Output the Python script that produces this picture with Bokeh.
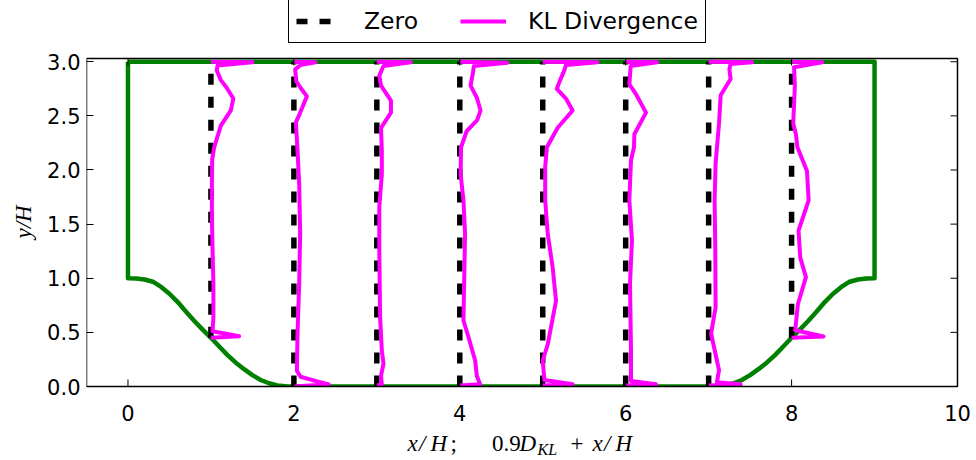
import math
from bokeh.plotting import figure
from bokeh.models import (FixedTicker, PrintfTickFormatter, Legend, LegendItem, Label,
                          Range1d)
from bokeh.core.properties import value
from bokeh.embed import file_html
from bokeh.resources import INLINE

# ---------------- data ----------------
stations = [1, 2, 3, 4, 5, 6, 7, 8]
station_wall_y = [0.45, 0.0, 0.0, 0.0, 0.0, 0.0, 0.0, 0.45]
channel_top = 3.0
kl_scale = 0.9

x_ticks = [0, 2, 4, 6, 8, 10]
x_tick_labels = ["0", "2", "4", "6", "8", "10"]
y_ticks = [0.0, 0.5, 1.0, 1.5, 2.0, 2.5, 3.0]
x_lim = (-0.5, 10)
y_lim = (0, 3.03)

# domain outline (periodic hill geometry)
wall_x = [0, 0, 0.1, 0.2, 0.3, 0.4, 0.5, 0.6, 0.7, 0.8, 0.9, 1.0, 1.1, 1.2, 1.3,
          1.4, 1.5, 1.6, 1.7, 1.8, 1.93,
          7.07, 7.2, 7.3, 7.4, 7.5, 7.6, 7.7, 7.8, 7.9, 8.0, 8.1, 8.2, 8.3, 8.4,
          8.5, 8.6, 8.7, 8.8, 8.9, 9, 9, 0]
wall_y = [3.0, 1.0, 0.997, 0.988, 0.968, 0.92, 0.857, 0.78, 0.69, 0.605, 0.525,
          0.45, 0.37, 0.29, 0.22, 0.16, 0.105, 0.06, 0.03, 0.01, 0.0,
          0.0, 0.01, 0.03, 0.06, 0.105, 0.16, 0.22, 0.29, 0.37, 0.45, 0.525,
          0.605, 0.69, 0.78, 0.857, 0.92, 0.968, 0.988, 0.997, 1.0, 3.0, 3.0]

# KL divergence profiles (D_KL vs y/H) at each station
kl_y_1 = [0.45, 0.465, 0.51, 0.64, 0.95, 1.26, 1.56, 1.87, 2.1, 2.21, 2.41, 2.55,
          2.66, 2.76, 2.83, 2.92, 2.965, 2.995, 3.0]
kl_d_1 = [0.0, 0.378, 0.022, 0.033, 0.033, 0.022, 0.013, 0.013, 0.017, 0.044, 0.133,
          0.267, 0.30, 0.211, 0.133, 0.078, 0.089, 0.556, 0.0]

kl_y_2 = [0.0, 0.02, 0.05, 0.09, 0.145, 0.49, 0.95, 1.41, 1.87, 2.18, 2.44, 2.52,
          2.68, 2.76, 2.82, 2.93, 2.97, 2.995, 3.0]
kl_d_2 = [0.0, 0.467, 0.30, 0.089, 0.04, 0.049, 0.071, 0.084, 0.071, 0.049, 0.027,
          0.078, 0.174, 0.089, 0.033, 0.017, 0.089, 0.289, 0.0]

kl_y_3 = [0.01, 0.02, 0.10, 0.21, 0.33, 0.64, 1.26, 1.66, 1.96, 2.18, 2.39, 2.53,
          2.64, 2.78, 2.87, 2.96, 2.995, 3.0]
kl_d_3 = [0.0, 0.067, 0.056, 0.089, 0.067, 0.044, 0.033, 0.033, 0.067, 0.067, 0.056,
          0.189, 0.189, 0.056, 0.033, 0.089, 0.456, 0.0]

kl_y_4 = [0.01, 0.02, 0.10, 0.24, 0.455, 0.61, 0.95, 1.41, 1.72, 1.96, 2.21, 2.36,
          2.46, 2.55, 2.67, 2.78, 2.89, 2.96, 2.99, 3.0]
kl_d_4 = [0.0, 0.272, 0.228, 0.206, 0.117, 0.049, 0.058, 0.071, 0.049, 0.011, 0.017,
          0.093, 0.233, 0.278, 0.228, 0.144, 0.174, 0.189, 0.639, 0.0]

kl_y_5 = [0.01, 0.02, 0.06, 0.24, 0.39, 0.79, 1.10, 1.41, 1.72, 2.03, 2.21, 2.39,
          2.55, 2.66, 2.75, 2.83, 2.92, 2.97, 2.995, 3.0]
kl_d_5 = [0.0, 0.40, 0.022, 0.0, 0.067, 0.178, 0.133, 0.067, 0.033, 0.033, 0.056,
          0.20, 0.40, 0.311, 0.189, 0.233, 0.289, 0.311, 0.733, 0.0]

kl_y_6 = [0.01, 0.02, 0.05, 0.33, 0.95, 1.35, 1.72, 2.09, 2.21, 2.33, 2.53, 2.70,
          2.79, 2.96, 2.995, 3.0]
kl_d_6 = [0.0, 0.406, 0.071, 0.071, 0.058, 0.084, 0.049, 0.071, 0.111, 0.116, 0.272,
          0.138, 0.049, 0.067, 0.422, 0.0]

kl_y_7 = [0.01, 0.02, 0.04, 0.15, 0.49, 0.73, 1.26, 1.72, 2.06, 2.43, 2.69, 2.84,
          2.93, 2.98, 2.995, 3.0]
kl_d_7 = [0.0, 0.428, 0.111, 0.139, 0.033, 0.093, 0.089, 0.08, 0.093, 0.139, 0.161,
          0.294, 0.278, 0.294, 0.583, 0.0]

kl_y_8 = [0.45, 0.462, 0.52, 0.76, 1.01, 1.19, 1.44, 1.72, 1.99, 2.21, 2.33, 2.43,
          2.78, 2.95, 2.995, 3.0]
kl_d_8 = [0.0, 0.428, 0.049, 0.084, 0.192, 0.116, 0.093, 0.228, 0.206, 0.078, 0.058,
          0.022, 0.044, 0.033, 0.411, 0.0]

kl_y = [kl_y_1, kl_y_2, kl_y_3, kl_y_4, kl_y_5, kl_y_6, kl_y_7, kl_y_8]
kl_d = [kl_d_1, kl_d_2, kl_d_3, kl_d_4, kl_d_5, kl_d_6, kl_d_7, kl_d_8]

# ---------------- layout (pixels) ----------------
W, H = 976, 460
box_left, box_right, box_top, box_bottom = 86, 957, 58, 386
sx = (box_right - box_left) / (x_lim[1] - x_lim[0])
sy = (box_bottom - box_top) / (y_lim[1] - y_lim[0])
x_range = Range1d(x_lim[0], x_lim[1] + (W - box_right) / sx)
y_range = Range1d(y_lim[0] - (H - box_bottom) / sy, y_lim[1] + box_top / sy)

p = figure(width=W, height=H, x_range=x_range, y_range=y_range,
           output_backend="svg", toolbar_location=None, x_axis_location=None,
           min_border_left=box_left, min_border_right=0, min_border_top=0,
           min_border_bottom=0)
p.background_fill_color = "white"
p.border_fill_color = "white"
p.outline_line_color = None
p.xgrid.visible = False
p.ygrid.visible = False

yax = p.yaxis[0]
yax.ticker = FixedTicker(ticks=y_ticks)
yax.formatter = PrintfTickFormatter(format="%.1f")
yax.major_tick_in = 7
yax.major_tick_out = 0
yax.minor_tick_line_color = None
yax.axis_line_color = None
yax.major_tick_line_color = "black"
yax.major_label_text_font = "DejaVu Sans"
yax.major_label_text_font_size = "21px"
yax.major_label_text_color = "black"
yax.major_label_standoff = 6
yax.axis_label = "\u00a0\u00a0\u00a0y/H"
yax.axis_label_text_font = "Liberation Serif"
yax.axis_label_text_font_style = "italic"
yax.axis_label_text_font_size = "23px"
yax.axis_label_text_color = "black"
yax.axis_label_standoff = 8

# ---------------- data glyphs ----------------
p.line(wall_x, wall_y, line_color="#008000", line_width=4.5, line_join="round")

zero_xs = [[s, s] for s in stations]
zero_ys = [[wy, channel_top] for wy in station_wall_y]
r_zero = p.multi_line(zero_xs, zero_ys, line_color="black", line_width=5.5,
                      line_dash="11 12")

kl_xs = [[s + kl_scale * d for d in ds] for s, ds in zip(stations, kl_d)]
r_kl = p.multi_line(kl_xs, kl_y, line_color="#FF00FF", line_width=4,
                    line_join="round")

# clip below the axes box (like the axes clipping of the reference)
p.quad(left=[x_lim[0]], right=[x_lim[1]], top=[y_lim[0]], bottom=[y_range.start],
       fill_color="white", line_color=None)

# axes box (spines)
p.line([x_lim[0], x_lim[1], x_lim[1], x_lim[0], x_lim[0]],
       [y_lim[0], y_lim[0], y_lim[1], y_lim[1], y_lim[0]],
       line_color="black", line_width=1.5)

# inward ticks on bottom, top and right
p.ray(x=x_ticks, y=[y_lim[0]] * len(x_ticks), length=7, length_units="screen",
      angle=math.pi / 2, line_color="black", line_width=1)
p.ray(x=x_ticks, y=[y_lim[1]] * len(x_ticks), length=7, length_units="screen",
      angle=-math.pi / 2, line_color="black", line_width=1)
p.ray(x=[x_lim[1]] * len(y_ticks), y=y_ticks, length=7, length_units="screen",
      angle=math.pi, line_color="black", line_width=1)

# x tick labels
p.text(x=x_ticks, y=[y_lim[0]] * len(x_ticks), text=x_tick_labels, y_offset=26,
       text_align="center", text_baseline="alphabetic",
       text_font=value("DejaVu Sans"), text_font_size=value("21px"),
       text_color="black")

# legend (inside the frame area, above the axes box)
legend = Legend(items=[LegendItem(label="Zero", renderers=[r_zero]),
                       LegendItem(label="KL Divergence", renderers=[r_kl])],
                orientation="horizontal", location=(288 - box_left, H - 43), margin=0,
                padding=7, spacing=42, glyph_width=46, glyph_height=22,
                label_standoff=22, label_text_font="DejaVu Sans",
                label_text_font_size="23.5px", label_text_color="black",
                border_line_color="black", border_line_alpha=1.0,
                border_line_width=1.5, background_fill_alpha=1.0)
p.add_layout(legend)

# x axis label (math-like text), positions in frame pixels
segs = [
    (407, 443, "x", "italic", "23px"),
    (418.5, 443, "/", "italic", "23px"),
    (430, 443, "H", "italic", "23px"),
    (450, 443, ";", "normal", "23px"),
    (491.5, 443, "0.9", "normal", "23px"),
    (519, 443, "D", "italic", "23px"),
    (537, 449, "KL", "italic", "16px"),
    (570, 443, "+", "normal", "23px"),
    (592, 443, "x", "italic", "23px"),
    (603.5, 443, "/", "italic", "23px"),
    (615, 443, "H", "italic", "23px"),
]
for px, base, txt, style, size in segs:
    p.add_layout(Label(x=px - box_left, y=H - base, x_units="screen", y_units="screen",
                       text=txt, text_font="Liberation Serif", text_font_style=style,
                       text_font_size=size, text_baseline="alphabetic",
                       text_color="black"))

open("out.html", "w").write(file_html(p, INLINE))
